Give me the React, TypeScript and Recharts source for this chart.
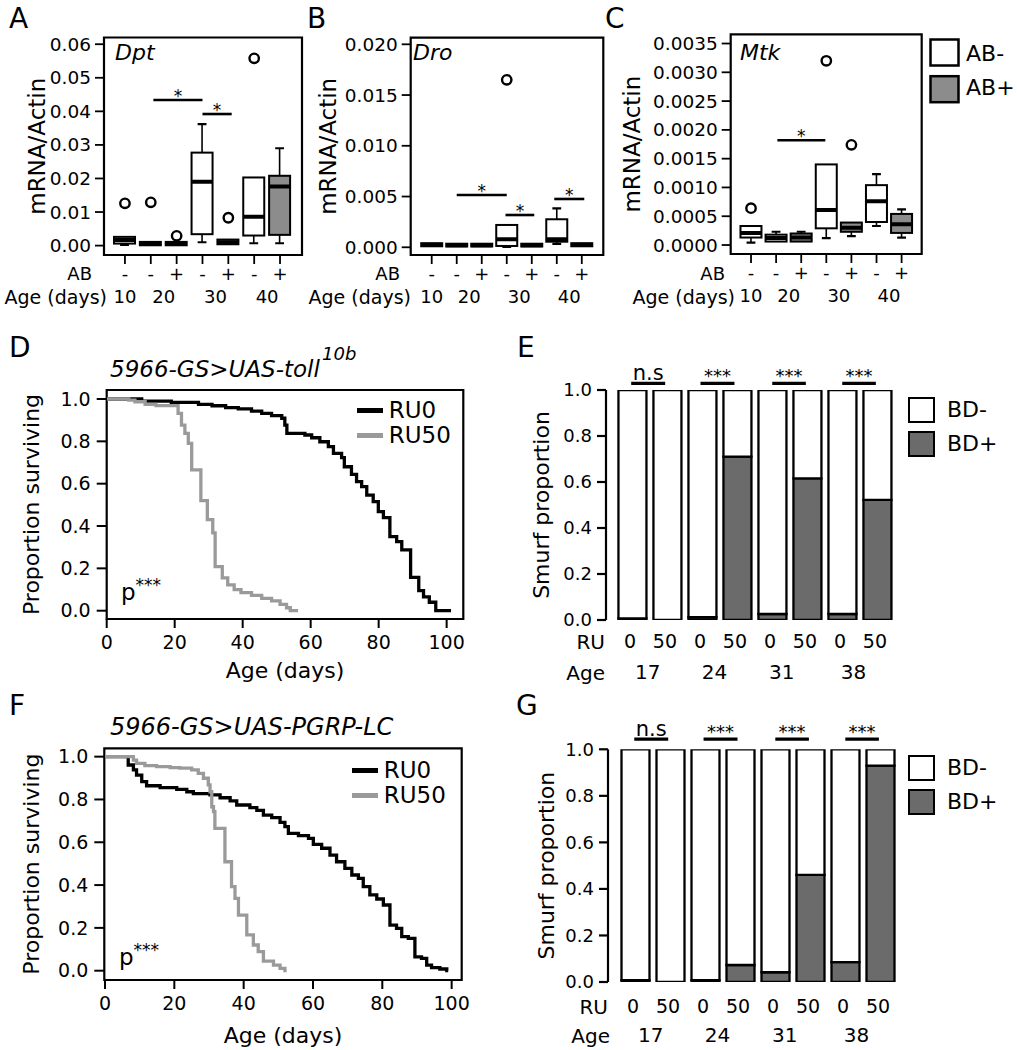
import React from 'react';
import {
  ComposedChart, LineChart, BarChart, Bar, Line, Scatter, XAxis, YAxis,
  ReferenceLine, ReferenceArea, Legend,
} from 'recharts';

const FONT = '"DejaVu Sans", "Liberation Sans", sans-serif';
const AB_PLUS_FILL = '#8c8c8c';
const BD_PLUS_FILL = '#6b6b6b';
const RU50_COLOR = '#9a9a9a';

// ---------- Panels A–C (box plots) ----------
const catPos = [1, 2, 3, 4, 5, 6, 7];
const abSigns = ['-', '-', '+', '-', '+', '-', '+'];
const ageLabels = ['10', '20', '30', '40'];
const ageTickPos = [1, 2.5, 4.5, 6.5];
const abLegendNames = ['AB-', 'AB+'];
const abLegendFills = ['#ffffff', AB_PLUS_FILL];

// Dpt
const dptMin = [0.0002, 0.0, 0.0, 0.001, 0.0002, 0.0007, 0.0007];
const dptQ1 = [0.0006, 0.0001, 0.0001, 0.0034, 0.0004, 0.003, 0.0032];
const dptMed = [0.0017, 0.0005, 0.0006, 0.019, 0.001, 0.0086, 0.0176];
const dptQ3 = [0.0026, 0.0011, 0.0011, 0.0277, 0.0018, 0.0203, 0.0208];
const dptMax = [0.0026, 0.0011, 0.0011, 0.0362, 0.0018, 0.0203, 0.029];
const dptOut = [0.0126, 0.0129, 0.0029, null, 0.0083, 0.0558, null];
const dptTicks = [0, 0.01, 0.02, 0.03, 0.04, 0.05, 0.06];
const dptSigFrom = [2.1, 4.0];
const dptSigTo = [4.0, 5.13];
const dptSigY = [0.0434, 0.0392];

// Dro
const droMin = [0.00005, 0.00002, 0.00002, 0.00003, 0.00002, 0.00033, 0.00005];
const droQ1 = [0.0001, 0.00008, 0.00008, 0.00013, 0.00008, 0.00055, 0.0001];
const droMed = [0.00025, 0.0002, 0.0002, 0.0008, 0.0002, 0.0008, 0.00025];
const droQ3 = [0.0004, 0.00035, 0.00035, 0.0022, 0.00035, 0.00276, 0.0004];
const droMax = [0.0004, 0.00035, 0.00035, 0.0022, 0.00035, 0.00384, 0.0004];
const droOut = [null, null, null, 0.0165, null, null, null];
const droTicks = [0, 0.005, 0.01, 0.015, 0.02];
const droSigFrom = [2.0, 3.95, 5.9];
const droSigTo = [4.0, 5.1, 7.1];
const droSigY = [0.00515, 0.00318, 0.00476];

// Mtk
const mtkMin = [0.00004, 0.00006, 0.00006, 0.00012, 0.000156, 0.00033, 0.00013];
const mtkQ1 = [0.00013, 0.00006, 0.00006, 0.00029, 0.00023, 0.0004, 0.00021];
const mtkMed = [0.00021, 0.00012, 0.00013, 0.00061, 0.0003, 0.00076, 0.00036];
const mtkQ3 = [0.00033, 0.00018, 0.0002, 0.0014, 0.00039, 0.00104, 0.00054];
const mtkMax = [0.00033, 0.00023, 0.00023, 0.0014, 0.00039, 0.00123, 0.00062];
const mtkOut = [0.00064, null, null, 0.0032, 0.00174, null, null];
const mtkTicks = [0, 0.0005, 0.001, 0.0015, 0.002, 0.0025, 0.003, 0.0035];
const mtkSigFrom = [2.05];
const mtkSigTo = [3.96];
const mtkSigY = [0.00182];

// ---------- Panels D, F (survival) ----------
const survTicksX = [0, 20, 40, 60, 80, 100];
const survTicksY = [0, 0.2, 0.4, 0.6, 0.8, 1.0];

const tollRu0Day = [0, 10.3, 19, 27, 31, 35, 38.7, 42.6, 45.6, 48.5, 51.5, 52.4, 53, 58.3, 60.3, 62.7, 65.2, 66.7, 69.1, 69.9, 72, 73.5, 75, 76.5, 78.4, 79.9, 81.4, 83.3, 85.3, 86.8, 89.4, 91.8, 93.2, 94.9, 96.8, 101.3];
const tollRu0Surv = [1, 0.99, 0.984, 0.975, 0.968, 0.959, 0.953, 0.943, 0.932, 0.921, 0.909, 0.877, 0.838, 0.83, 0.817, 0.798, 0.775, 0.743, 0.723, 0.68, 0.644, 0.61, 0.586, 0.546, 0.515, 0.468, 0.44, 0.35, 0.326, 0.287, 0.157, 0.095, 0.065, 0.04, 0, 0];
const tollRu50Day = [0, 6.5, 8.3, 11.3, 14.5, 21, 22, 23, 24, 25, 27.7, 29.6, 31.2, 31.9, 34, 35.6, 37.5, 39.5, 42.6, 45.6, 48.5, 51, 52.9, 54, 56.3];
const tollRu50Surv = [1, 0.995, 0.987, 0.975, 0.969, 0.932, 0.877, 0.838, 0.79, 0.665, 0.52, 0.43, 0.368, 0.208, 0.155, 0.122, 0.1, 0.085, 0.072, 0.058, 0.046, 0.03, 0.014, 0, 0];

const pgrpRu0Day = [0, 6.7, 8.2, 9.1, 10.6, 12, 15.9, 20.7, 23.6, 25.5, 30.3, 33.2, 36.1, 38, 41.8, 43.8, 45.7, 48.1, 50.5, 51.9, 52.9, 55.8, 58.7, 60.1, 62.5, 64.9, 66.8, 69.2, 71.2, 73.1, 74.5, 76.4, 78.4, 80.3, 82.2, 84.1, 85.6, 87.5, 89.4, 91.3, 92.8, 94.2, 96.6, 98.6, 99];
const pgrpRu0Surv = [1, 0.961, 0.938, 0.914, 0.883, 0.864, 0.855, 0.847, 0.836, 0.827, 0.821, 0.808, 0.793, 0.774, 0.762, 0.749, 0.727, 0.715, 0.693, 0.673, 0.642, 0.631, 0.618, 0.59, 0.572, 0.54, 0.509, 0.478, 0.447, 0.431, 0.393, 0.354, 0.335, 0.307, 0.213, 0.198, 0.159, 0.151, 0.065, 0.058, 0.026, 0.014, 0.008, 0, 0];
const pgrpRu50Day = [0, 8.2, 9.1, 11.5, 14.9, 18.8, 21.6, 25, 26.9, 28.4, 29.8, 30.3, 30.8, 31.3, 31.7, 34.6, 36.5, 37.5, 38.5, 40.9, 42.8, 44.2, 45.7, 48.6, 50.5, 51.9, 52.4];
const pgrpRu50Surv = [1, 0.984, 0.969, 0.958, 0.953, 0.949, 0.946, 0.938, 0.922, 0.899, 0.868, 0.836, 0.766, 0.743, 0.665, 0.509, 0.393, 0.338, 0.26, 0.167, 0.12, 0.089, 0.045, 0.026, 0.011, 0, 0];

// ---------- Panels E, G (Smurf proportions) ----------
const barPos = [1, 2, 3, 4, 5, 6, 7, 8];
const ruLabels = ['0', '50', '0', '50', '0', '50', '0', '50'];
const smurfAges = ['17', '24', '31', '38'];
const smurfAgePos = [1.42, 3.33, 5.25, 7.3];
const smurfTicksY = [0, 0.2, 0.4, 0.6, 0.8, 1.0];
const bdLegendNames = ['BD-', 'BD+'];
const bdLegendFills = ['#ffffff', BD_PLUS_FILL];
const sigFromPos = [0.95, 2.93, 4.98, 6.98];
const sigToPos = [1.92, 3.9, 5.94, 7.94];
const sigText = ['n.s', '***', '***', '***'];

const tollBdPlus = [0.007, 0, 0.012, 0.71, 0.026, 0.616, 0.026, 0.522];
const tollBdMinus = [0.993, 1, 0.988, 0.29, 0.974, 0.384, 0.974, 0.478];
const tollSigY = 1.029;
const pgrpBdPlus = [0.008, 0, 0.008, 0.073, 0.042, 0.46, 0.085, 0.93];
const pgrpBdMinus = [0.992, 1, 0.992, 0.927, 0.958, 0.54, 0.915, 0.07];
const pgrpSigY = 1.044;

// ---------- helpers ----------
function buildBoxRows(mn: number[], q1: number[], med: number[], q3: number[], mx: number[]) {
  return catPos.map((p, i) => ({ pos: p, lo: mn[i], q1: q1[i], med: med[i], q3: q3[i], hi: mx[i], ab: abSigns[i] }));
}
function buildOutliers(out: (number | null)[]) {
  return catPos.map((p, i) => ({ pos: p, out: out[i] })).filter((d) => d.out != null);
}
function buildSeries(days: number[], surv: number[]) {
  return days.map((d, i) => ({ day: d, surv: surv[i] }));
}
function buildSmurfRows(plus: number[], minus: number[]) {
  return barPos.map((p, i) => ({ pos: p, bdPlus: plus[i], bdMinus: minus[i] }));
}

const BoxShape = (props: any) => {
  const { x, y, width, height, payload } = props;
  if (x == null || y == null || !payload) return null;
  const top = Math.min(y, y + height);
  const bottom = Math.max(y, y + height);
  const span = payload.hi - payload.lo;
  const py = (v: number) => (span === 0 ? top : bottom - ((v - payload.lo) / span) * (bottom - top));
  const cx = x + width / 2;
  const capW = width * 0.42;
  const yHi = py(payload.hi);
  const yLo = py(payload.lo);
  const yQ1 = py(payload.q1);
  const yQ3 = py(payload.q3);
  const yMed = py(payload.med);
  return (
    <g>
      {yQ3 - yHi > 1 && (
        <g>
          <line x1={cx} x2={cx} y1={yHi} y2={yQ3} stroke="#000" strokeWidth={1.6} />
          <line x1={cx - capW / 2} x2={cx + capW / 2} y1={yHi} y2={yHi} stroke="#000" strokeWidth={2.2} />
        </g>
      )}
      {yLo - yQ1 > 1 && (
        <g>
          <line x1={cx} x2={cx} y1={yQ1} y2={yLo} stroke="#000" strokeWidth={1.6} />
          <line x1={cx - capW / 2} x2={cx + capW / 2} y1={yLo} y2={yLo} stroke="#000" strokeWidth={2.2} />
        </g>
      )}
      <rect x={x} y={yQ3} width={width} height={Math.max(yQ1 - yQ3, 0.5)}
        fill={payload.ab === '+' ? AB_PLUS_FILL : '#ffffff'} stroke="#000" strokeWidth={2} />
      <line x1={x} x2={x + width} y1={yMed} y2={yMed} stroke="#000" strokeWidth={4} />
    </g>
  );
};

const OutlierShape = (props: any) => {
  if (props.cx == null || props.cy == null) return null;
  return <circle cx={props.cx} cy={props.cy} r={4.7} fill="#fff" stroke="#000" strokeWidth={2.4} />;
};

type Frame = { l: number; t: number; r: number; b: number };

function BoxPanel(props: any) {
  const { left, top, frame, xDomain, yDomain, yTicks, digits, rows, outliers, sigFrom, sigTo, sigY, yLabelOffset, barSize } = props;
  const f: Frame = frame;
  const W = f.r - left + 8;
  const H = f.b - top + 60 + 12;
  return (
    <div style={{ position: 'absolute', left, top }}>
      <ComposedChart width={W} height={H} data={rows}
        margin={{ top: f.t - top, right: left + W - f.r, left: 0, bottom: 12 }}>
        <XAxis xAxisId="ab" dataKey="pos" type="number" domain={xDomain} allowDataOverflow
          ticks={catPos} interval={0} tickFormatter={(v: number) => abSigns[v - 1]}
          axisLine={false} tickLine={{ stroke: '#000', strokeWidth: 1.8 }} tickSize={9} tickMargin={3}
          height={30} tick={{ fontSize: 18, fill: '#000' }} />
        <XAxis xAxisId="age" dataKey="pos" type="number" domain={xDomain} allowDataOverflow
          ticks={ageTickPos} interval={0} tickFormatter={(v: number) => ageLabels[ageTickPos.indexOf(v)]}
          axisLine={false} tickLine={false} tickSize={0} tickMargin={5}
          height={30} tick={{ fontSize: 18, fill: '#000' }} />
        <YAxis type="number" domain={yDomain} allowDataOverflow ticks={yTicks} interval={0}
          tickFormatter={(v: number) => v.toFixed(digits)}
          axisLine={false} tickLine={{ stroke: '#000', strokeWidth: 1.8 }} tickSize={9} tickMargin={4}
          width={f.l - left} tick={{ fontSize: 18.5, fill: '#000' }}
          label={{ value: 'mRNA/Actin', angle: -90, position: 'insideLeft', offset: yLabelOffset,
            style: { textAnchor: 'middle', fontSize: 23, fill: '#000' } }} />
        <ReferenceArea xAxisId="ab" x1={xDomain[0]} x2={xDomain[1]} y1={yDomain[0]} y2={yDomain[1]}
          fill="none" fillOpacity={0} stroke="#000" strokeWidth={2.2} ifOverflow="visible" />
        <Bar xAxisId="ab" dataKey={(d: any) => [d.lo, d.hi]} barSize={barSize} shape={BoxShape}
          isAnimationActive={false} />
        <Scatter xAxisId="ab" data={outliers} dataKey="out" shape={OutlierShape} isAnimationActive={false} />
        {sigY.map((yv: number, i: number) => (
          <ReferenceLine key={i} xAxisId="ab" segment={[{ x: sigFrom[i], y: yv }, { x: sigTo[i], y: yv }]}
            stroke="#000" strokeWidth={2.6} ifOverflow="visible"
            label={{ value: '*', position: 'top', offset: -2, fontSize: 17, fill: '#000' }} />
        ))}
      </ComposedChart>
    </div>
  );
}

function LineLegend(props: any) {
  const payload = props.payload || [];
  return (
    <div style={{ fontFamily: FONT }}>
      {payload.map((e: any) => (
        <div key={e.value} style={{ display: 'flex', alignItems: 'center', height: 25 }}>
          <div style={{ width: 26, height: 5, background: e.color, marginRight: 6 }} />
          <span style={{ fontSize: 23, color: '#000', lineHeight: '25px' }}>{e.value}</span>
        </div>
      ))}
    </div>
  );
}

function SurvivalPanel(props: any) {
  const { left, top, frame, xDomain, yDomain, series, yLabelOffset, xLabelOffset, legendLeft, legendTop } = props;
  const f: Frame = frame;
  const W = 480;
  const H = f.b - top + 66 + 10;
  return (
    <div style={{ position: 'absolute', left, top }}>
      <LineChart width={W} height={H} margin={{ top: f.t - top, right: left + W - f.r, left: 0, bottom: 10 }}>
        <XAxis type="number" dataKey="day" domain={xDomain} allowDataOverflow ticks={survTicksX} interval={0}
          axisLine={false} tickLine={{ stroke: '#000', strokeWidth: 2 }} tickSize={9} tickMargin={8}
          height={66} tick={{ fontSize: 19, fill: '#000' }}
          label={{ value: 'Age (days)', position: 'insideBottom', offset: xLabelOffset, style: { fontSize: 22, fill: '#000' } }} />
        <YAxis type="number" domain={yDomain} allowDataOverflow ticks={survTicksY} interval={0}
          tickFormatter={(v: number) => v.toFixed(1)}
          axisLine={false} tickLine={{ stroke: '#000', strokeWidth: 2 }} tickSize={10} tickMargin={6}
          width={f.l - left} tick={{ fontSize: 19, fill: '#000' }}
          label={{ value: 'Proportion surviving', angle: -90, position: 'insideLeft', offset: yLabelOffset,
            style: { textAnchor: 'middle', fontSize: 22, fill: '#000' } }} />
        <ReferenceArea x1={xDomain[0]} x2={xDomain[1]} y1={yDomain[0]} y2={yDomain[1]}
          fill="none" fillOpacity={0} stroke="#000" strokeWidth={2.2} ifOverflow="visible" />
        <Legend layout="horizontal" verticalAlign="middle" align="center" content={LineLegend}
          wrapperStyle={{ left: legendLeft, top: legendTop, width: 110, height: 50 }} />
        {series.map((s: any) => (
          <Line key={s.name} data={s.data} dataKey="surv" name={s.name} type="stepAfter" stroke={s.color}
            strokeWidth={3.3} dot={false} activeDot={false} isAnimationActive={false} />
        ))}
      </LineChart>
    </div>
  );
}

function BdLegend() {
  return (
    <div style={{ fontFamily: FONT }}>
      {bdLegendNames.map((n, i) => (
        <div key={n} style={{ display: 'flex', alignItems: 'center', height: 25.5, marginBottom: i === 0 ? 8.5 : 0 }}>
          <div style={{ boxSizing: 'border-box', width: 27, height: 25.5, border: '2.5px solid #000', background: bdLegendFills[i] }} />
          <span style={{ marginLeft: 12, fontSize: 22, color: '#000' }}>{n}</span>
        </div>
      ))}
    </div>
  );
}

function SmurfPanel(props: any) {
  const { left, top, frame, xDomain, rows, sigY, yLabelOffset, ruMargin, ageMargin, legendTop } = props;
  const f: Frame = frame;
  const W = 497;
  const H = f.b - top + 62 + 8;
  return (
    <div style={{ position: 'absolute', left, top }}>
      <BarChart width={W} height={H} data={rows} margin={{ top: f.t - top, right: left + W - f.r, left: 0, bottom: 8 }}>
        <XAxis dataKey="pos" type="number" domain={xDomain} allowDataOverflow ticks={barPos} interval={0}
          tickFormatter={(v: number) => ruLabels[v - 1]} axisLine={false} tickLine={false} tickSize={0}
          tickMargin={ruMargin} height={30} tick={{ fontSize: 19, fill: '#000', dx: -3 }} />
        <XAxis xAxisId="age" dataKey="pos" type="number" domain={xDomain} allowDataOverflow ticks={smurfAgePos}
          interval={0} tickFormatter={(v: number) => smurfAges[smurfAgePos.indexOf(v)]}
          axisLine={false} tickLine={false} tickSize={0} tickMargin={ageMargin} height={32}
          tick={{ fontSize: 20, fill: '#000' }} />
        <YAxis type="number" domain={[0, 1]} allowDataOverflow ticks={smurfTicksY} interval={0}
          tickFormatter={(v: number) => v.toFixed(1)}
          axisLine={{ stroke: '#000', strokeWidth: 2.2 }} tickLine={{ stroke: '#000', strokeWidth: 2.2 }}
          tickSize={9} tickMargin={5} width={f.l - left} tick={{ fontSize: 18, fill: '#000' }}
          label={{ value: 'Smurf proportion', angle: -90, position: 'insideLeft', offset: yLabelOffset,
            style: { textAnchor: 'middle', fontSize: 22, fill: '#000' } }} />
        <Legend layout="horizontal" verticalAlign="middle" align="center" content={BdLegend}
          wrapperStyle={{ left: 908 - left, top: legendTop, width: 100, height: 60 }} />
        <Bar dataKey="bdPlus" name="BD+" stackId="s" fill={BD_PLUS_FILL} stroke="#000" strokeWidth={2.3}
          barSize={28} isAnimationActive={false} />
        <Bar dataKey="bdMinus" name="BD-" stackId="s" fill="#ffffff" stroke="#000" strokeWidth={2.3}
          barSize={28} isAnimationActive={false} />
        {sigText.map((t, i) => (
          <ReferenceLine key={i} segment={[{ x: sigFromPos[i], y: sigY }, { x: sigToPos[i], y: sigY }]}
            stroke="#000" strokeWidth={3.2} ifOverflow="visible"
            label={{ value: t, position: 'top', offset: t === 'n.s' ? 3 : 1, fontSize: t === 'n.s' ? 21 : 18, fill: '#000' }} />
        ))}
      </BarChart>
    </div>
  );
}

function Overlay() {
  const letter = { fontSize: 28, fill: '#000' };
  const gene = { fontSize: 22, fill: '#000', fontStyle: 'italic' as const };
  return (
    <svg width={1017} height={1050} style={{ position: 'absolute', left: 0, top: 0, pointerEvents: 'none' }}
      fontFamily={FONT}>
      <text x={9} y={28.3} {...letter}>A</text>
      <text x={307} y={28.3} {...letter}>B</text>
      <text x={605} y={28.3} {...letter}>C</text>
      <text x={9} y={356.7} {...letter}>D</text>
      <text x={517} y={356.7} {...letter}>E</text>
      <text x={9} y={715} {...letter}>F</text>
      <text x={516} y={715} {...letter}>G</text>

      <text x={115} y={60} {...gene}>Dpt</text>
      <text x={413} y={60} {...gene}>Dro</text>
      <text x={740} y={60} {...gene}>Mtk</text>

      {[92, 400, 725].map((x) => (
        <text key={'ab' + x} x={x} y={279.8} fontSize={18} textAnchor="end" fill="#000">AB</text>
      ))}
      {[107, 411, 735].map((x) => (
        <text key={'age' + x} x={x} y={303.5} fontSize={19} textAnchor="end" fill="#000">Age (days)</text>
      ))}

      {abLegendNames.map((n, i) => (
        <g key={n}>
          <rect x={930.5} y={i === 0 ? 39.5 : 76.2} width={28} height={26} fill={abLegendFills[i]} stroke="#000" strokeWidth={2.5} />
          <text x={966} y={i === 0 ? 61 : 95} fontSize={22} fill="#000">{n}</text>
        </g>
      ))}

      <text x={110} y={377.3} fontSize={23} fontStyle="italic" fill="#000">5966-GS&gt;UAS-toll</text>
      <text x={322} y={360} fontSize={18} fontStyle="italic" fill="#000">10b</text>
      <text x={110} y={735} fontSize={24} fontStyle="italic" fill="#000">5966-GS&gt;UAS-PGRP-LC</text>

      <text x={121} y={600} fontSize={23} fill="#000">p<tspan fontSize={17} dy={-9}>***</tspan></text>
      <text x={119} y={965} fontSize={23} fill="#000">p<tspan fontSize={17} dy={-9}>***</tspan></text>

      <text x={605} y={648.9} fontSize={20} textAnchor="end" fill="#000">RU</text>
      <text x={605} y={679.6} fontSize={20} textAnchor="end" fill="#000">Age</text>
      <text x={608} y={1014} fontSize={20} textAnchor="end" fill="#000">RU</text>
      <text x={610} y={1042.6} fontSize={20} textAnchor="end" fill="#000">Age</text>
    </svg>
  );
}

export default function App() {
  const dptRows = buildBoxRows(dptMin, dptQ1, dptMed, dptQ3, dptMax);
  const droRows = buildBoxRows(droMin, droQ1, droMed, droQ3, droMax);
  const mtkRows = buildBoxRows(mtkMin, mtkQ1, mtkMed, mtkQ3, mtkMax);
  const tollSeries = [
    { name: 'RU0', color: '#000000', data: buildSeries(tollRu0Day, tollRu0Surv) },
    { name: 'RU50', color: RU50_COLOR, data: buildSeries(tollRu50Day, tollRu50Surv) },
  ];
  const pgrpSeries = [
    { name: 'RU0', color: '#000000', data: buildSeries(pgrpRu0Day, pgrpRu0Surv) },
    { name: 'RU50', color: RU50_COLOR, data: buildSeries(pgrpRu50Day, pgrpRu50Surv) },
  ];
  return (
    <div style={{ position: 'absolute', left: 0, top: 0, width: 1017, height: 1050, background: '#fff', fontFamily: FONT, overflow: 'hidden' }}>
      <BoxPanel left={0} top={0} frame={{ l: 104, t: 37.5, r: 302, b: 255 }} xDomain={[0.19, 7.85]}
        yDomain={[-0.0028, 0.062]} yTicks={dptTicks} digits={2} rows={dptRows} outliers={buildOutliers(dptOut)}
        sigFrom={dptSigFrom} sigTo={dptSigTo} sigY={dptSigY} yLabelOffset={36.7} barSize={21} />
      <BoxPanel left={310} top={0} frame={{ l: 410.7, t: 37.7, r: 603.3, b: 255 }} xDomain={[0.16, 7.86]}
        yDomain={[-0.00076, 0.02065]} yTicks={droTicks} digits={3} rows={droRows} outliers={buildOutliers(droOut)}
        sigFrom={droSigFrom} sigTo={droSigTo} sigY={droSigY} yLabelOffset={18} barSize={21} />
      <BoxPanel left={620} top={0} frame={{ l: 730.7, t: 34.3, r: 921.7, b: 254 }} xDomain={[0.19, 7.8]}
        yDomain={[-0.000156, 0.00366]} yTicks={mtkTicks} digits={4} rows={mtkRows} outliers={buildOutliers(mtkOut)}
        sigFrom={mtkSigFrom} sigTo={mtkSigTo} sigY={mtkSigY} yLabelOffset={11.7} barSize={21} />

      <SurvivalPanel left={0} top={380} frame={{ l: 106.7, t: 390, r: 463.3, b: 619 }} xDomain={[0, 104.9]}
        yDomain={[-0.0392, 1.0425]} series={tollSeries} yLabelOffset={31} xLabelOffset={7}
        legendLeft={356.7} legendTop={17.5} />
      <SurvivalPanel left={0} top={740} frame={{ l: 104.3, t: 748.3, r: 461.7, b: 980 }} xDomain={[-0.2, 102.9]}
        yDomain={[-0.0435, 1.039]} series={pgrpSeries} yLabelOffset={31} xLabelOffset={3}
        legendLeft={351.7} legendTop={17.5} />

      <SmurfPanel left={520} top={300} frame={{ l: 606, t: 390, r: 900, b: 620 }} xDomain={[0.23, 8.63]}
        rows={buildSmurfRows(tollBdPlus, tollBdMinus)} sigY={tollSigY} yLabelOffset={21.3}
        ruMargin={14.3} ageMargin={15} legendTop={97} />
      <SmurfPanel left={520} top={650} frame={{ l: 608, t: 749.3, r: 902, b: 982 }} xDomain={[0.2, 8.6]}
        rows={buildSmurfRows(pgrpBdPlus, pgrpBdMinus)} sigY={pgrpSigY} yLabelOffset={26.3}
        ruMargin={17.3} ageMargin={16} legendTop={105} />

      <Overlay />
    </div>
  );
}
